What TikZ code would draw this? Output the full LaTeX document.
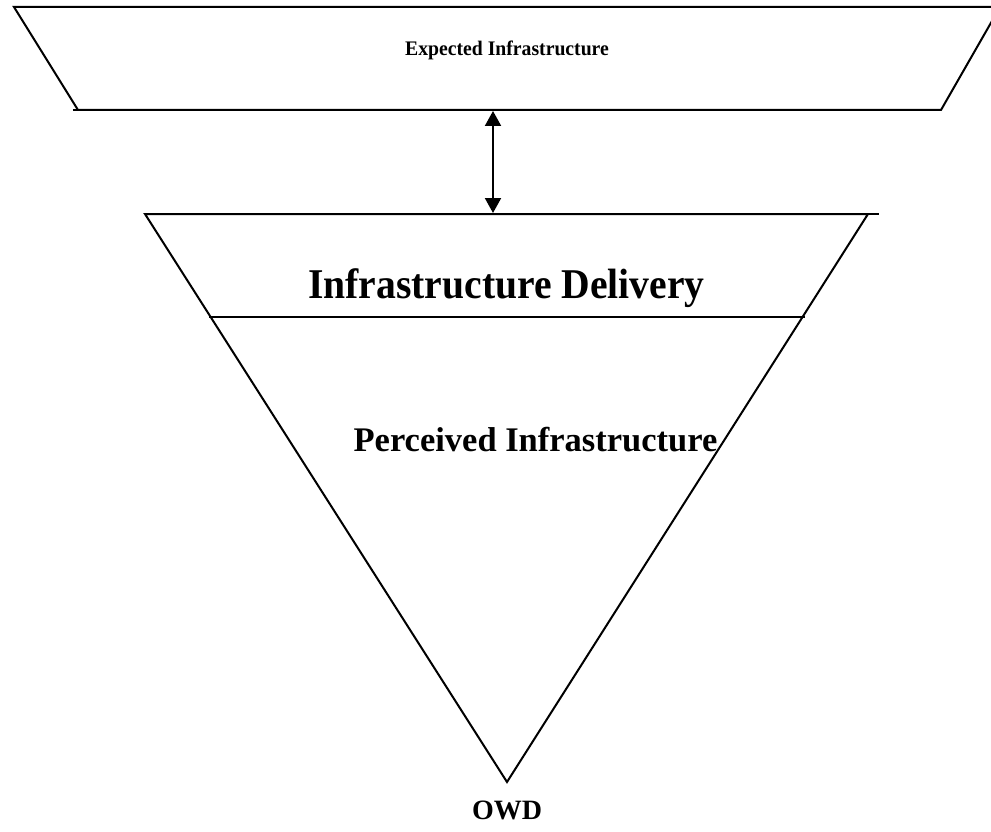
\documentclass[tikz,border=0pt]{standalone}
\usepackage{fontspec}
\setmainfont{Liberation Serif}
\usetikzlibrary{arrows.meta}
\tikzset{
  outline/.style={draw=black, line width=2pt, line join=miter},
  label/.style={inner sep=0pt, anchor=base, font=\bfseries},
  link/.style={line width=2pt, {Triangle[width=16pt,length=15pt]}-{Triangle[width=16pt,length=15pt]}}
}
\begin{document}
\begin{tikzpicture}[x=1pt,y=-1pt]
\useasboundingbox (0,0) rectangle (991,832);
\fill[white] (0,0) rectangle (991,832);

% expected level: wide band at the top
\draw[outline] (14,7) -- (1000,7) -- (941,110) -- (78,110) -- cycle;
\draw[outline] (73,110) -- (78,110);
\node[label, font=\bfseries\fontsize{19.7}{22}\selectfont, yscale=1.05] (expected) at (507,56) {Expected Infrastructure};

% inverted triangle with the delivery band
\draw[outline] (145,214) -- (868,214) -- (507,782) -- cycle;
\draw[outline] (868,214) -- (879,214);
\draw[outline] (209,317) -- (805,317);
\node[label, font=\bfseries\fontsize{39.6}{44}\selectfont, yscale=1.07] (delivery) at (506.5,298) {Infrastructure Delivery};
\node[label, font=\bfseries\fontsize{34.5}{38}\selectfont] (perceived) at (535.5,451) {Perceived Infrastructure};
\node[label, font=\bfseries\fontsize{28}{32}\selectfont] (owd) at (507,819) {OWD};

% gap between expectation and delivery
\coordinate (gaptop) at (493,111);
\coordinate (gapbot) at (493,213);
\draw[link] (gaptop) -- (gapbot);
\end{tikzpicture}
\end{document}
